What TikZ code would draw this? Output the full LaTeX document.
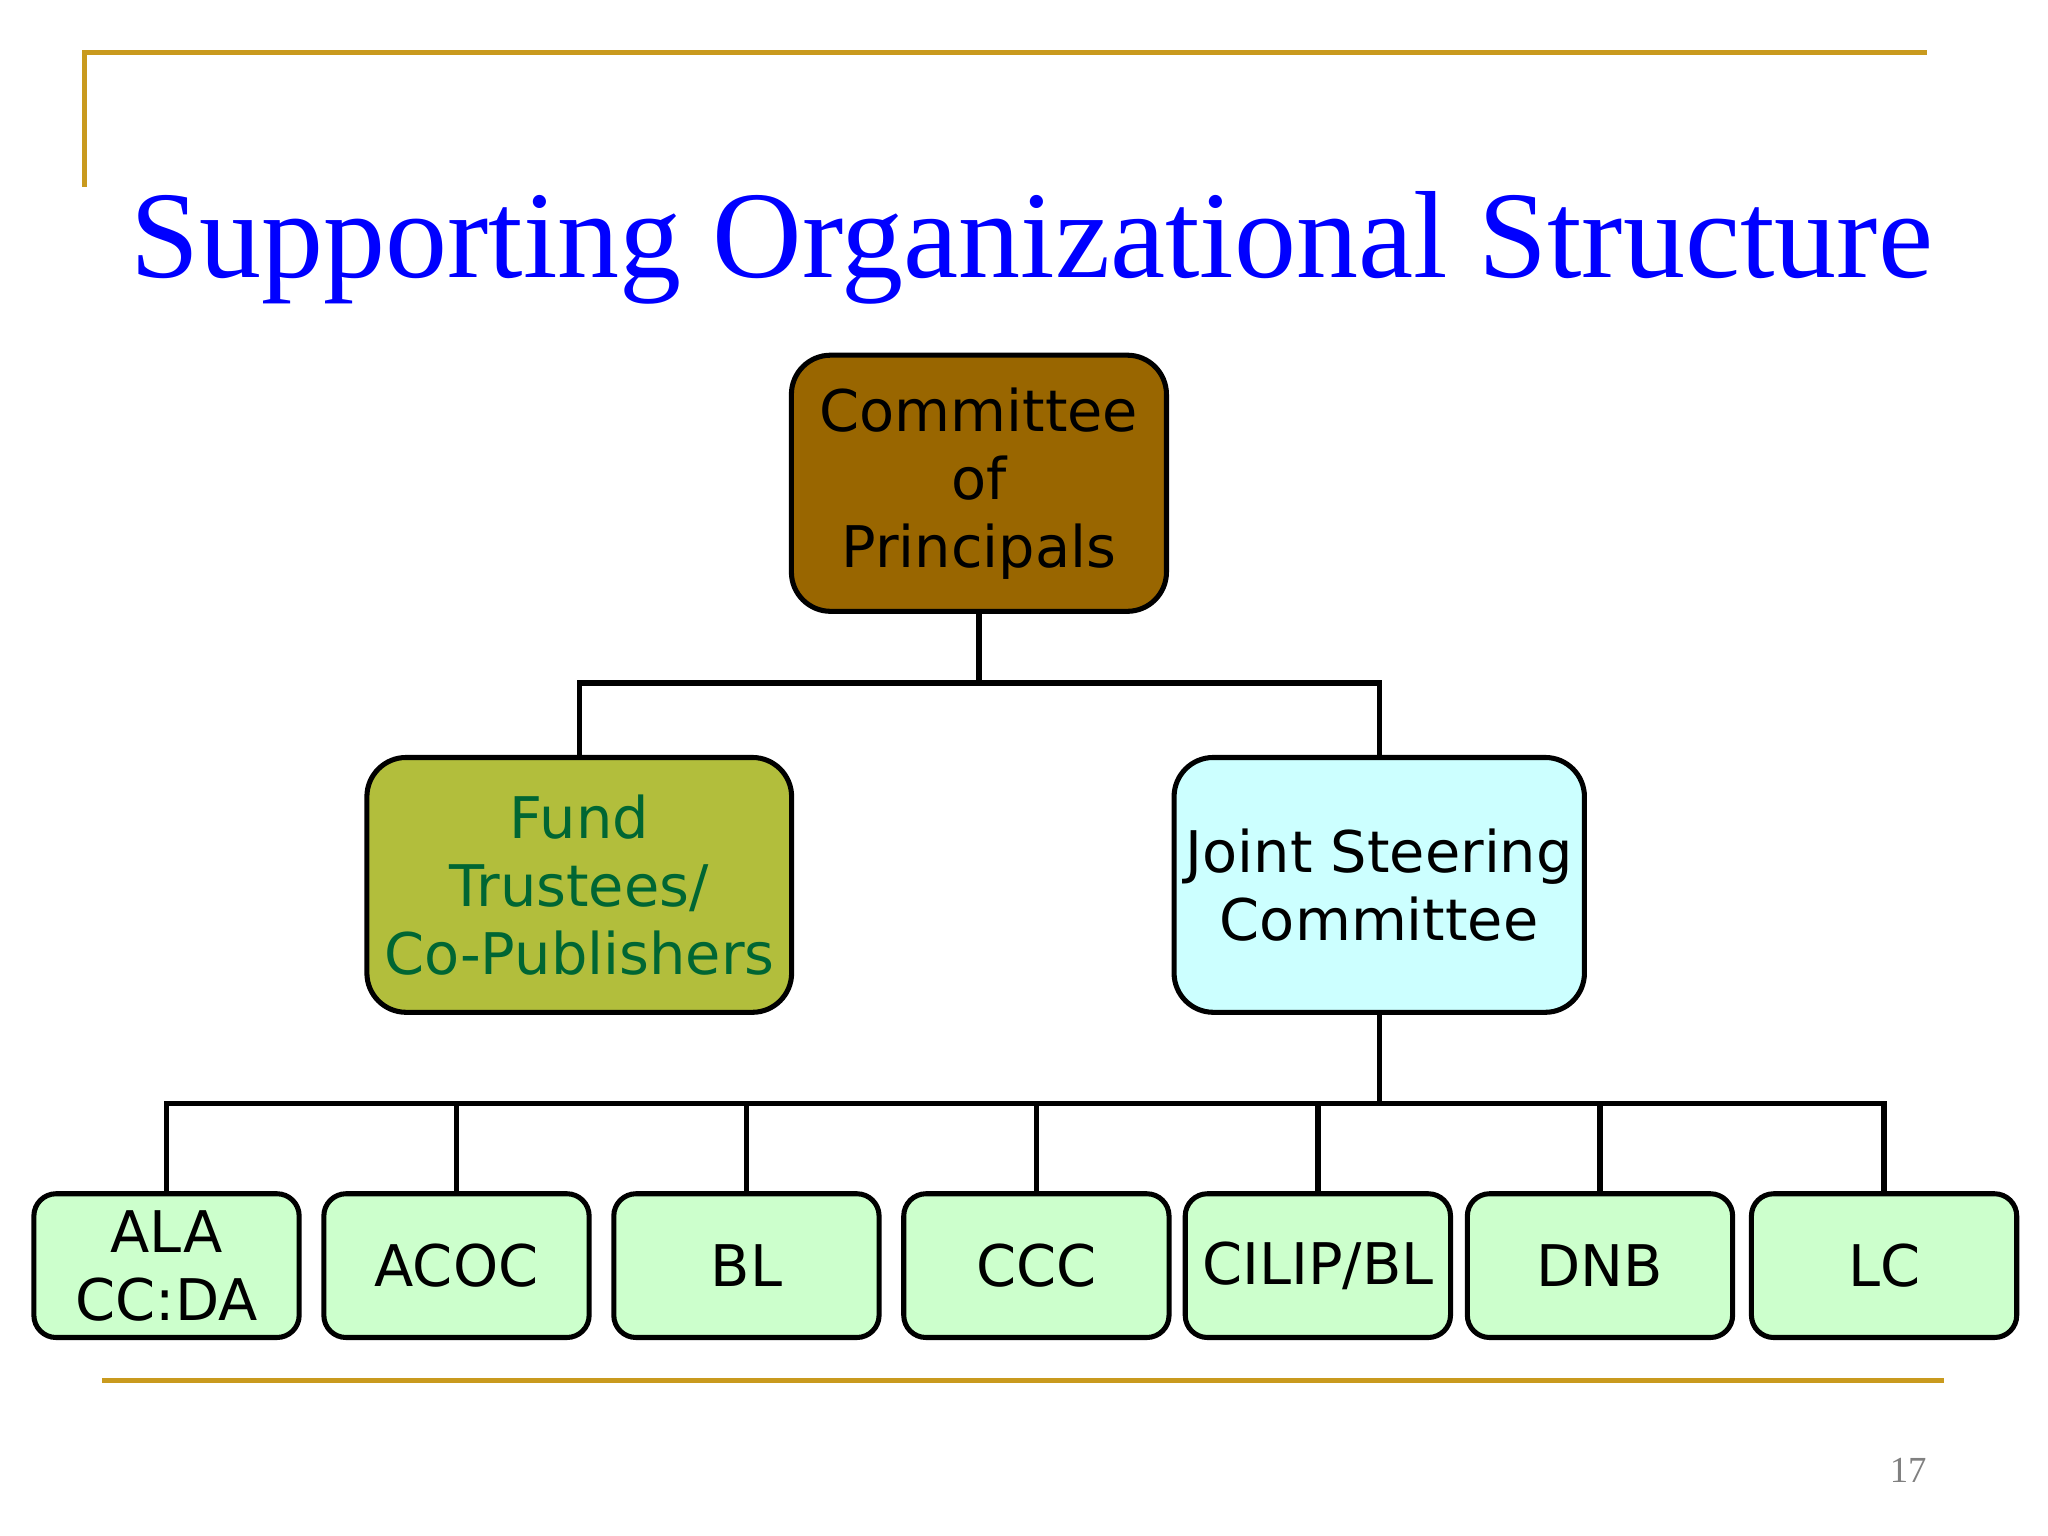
\documentclass[tikz,border=0pt]{standalone}
\usepackage{fontspec}
\setmainfont{Liberation Serif}
\newfontfamily\boxfont{DejaVu Sans}
\begin{document}
\begin{tikzpicture}[x=0.01cm,y=-0.01cm,
  bx/.style={draw=black,line width=1.1pt,rounded corners=0.3cm,font=\boxfont\fontsize{12.5}{14.8}\selectfont,align=center,inner sep=0pt},
  leaf/.style={bx,fill=leafg,rounded corners=0.17cm,minimum width=2.03cm,minimum height=1.1cm},
  conn/.style={line width=1.2pt},
  gold/.style={draw=goldc,line width=1.1pt}]
\definecolor{goldc}{HTML}{C99A1E}
\definecolor{leafg}{HTML}{CCFFCC}
\definecolor{brownc}{HTML}{996600}
\definecolor{olive}{HTML}{B2BE3C}
\definecolor{dgreen}{HTML}{006633}
\definecolor{cyanc}{HTML}{CCFFFF}
\useasboundingbox (0,0) rectangle (1568,1176);
\fill[white] (0,0) rectangle (1568,1176);
\draw[gold] (65,143) -- (65,40) -- (1475,40);
\draw[gold] (78,1057) -- (1488,1057);
\node[text=blue,font=\fontsize{27}{30}\selectfont] (title) at (790,190) {Supporting Organizational Structure};
\node[text=gray,font=\fontsize{8}{9}\selectfont] (pg) at (1461,1126) {17};
\node[bx,fill=brownc,minimum width=2.87cm,minimum height=1.96cm] (cop) at (749.5,370) {Committee\\of\\Principals};
\node[bx,fill=olive,text=dgreen,minimum width=3.25cm,minimum height=1.95cm] (fund) at (443.5,677.5) {Fund\\Trustees/\\Co-Publishers};
\node[bx,fill=cyanc,minimum width=3.14cm,minimum height=1.95cm] (jsc) at (1056,677.5) {Joint Steering\\Committee};
\node[leaf] (l1) at (127.5,969) {ALA\\CC:DA};
\node[leaf] (l2) at (349.5,969) {ACOC};
\node[leaf] (l3) at (571.5,969) {BL};
\node[leaf] (l4) at (793.5,969) {CCC};
\node[leaf] (l5) at (1009,969) {CILIP/BL};
\node[leaf] (l6) at (1225,969) {DNB};
\node[leaf] (l7) at (1442.5,969) {LC};
\coordinate (m1) at (749.5,523);
\coordinate (m2) at (1056,845);
\draw[conn] (cop.south) -- (m1);
\draw[conn] (fund.north) |- (m1) -| (jsc.north);
\draw[conn] (jsc.south) -- (m2);
\foreach \i in {1,...,7} {\draw[conn] (l\i.north) |- (m2);}
\end{tikzpicture}
\end{document}
